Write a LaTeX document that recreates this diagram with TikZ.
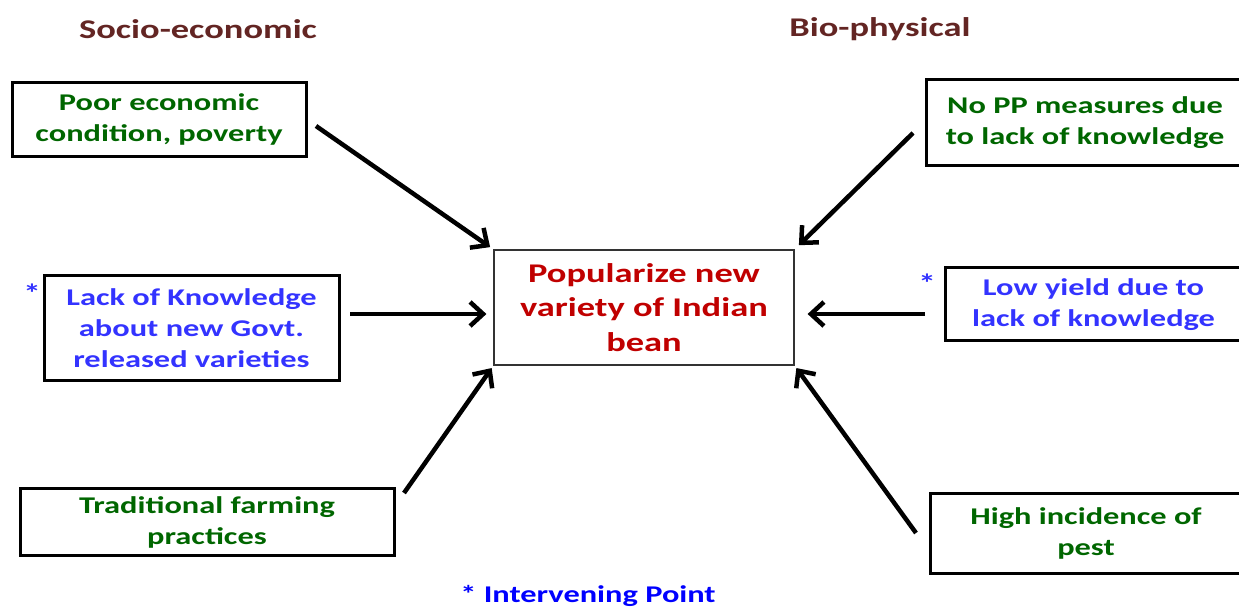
\documentclass[tikz,border=0pt]{standalone}
\usepackage{fontspec}
\setmainfont{Carlito}[FakeStretch=1.35]
\usetikzlibrary{arrows.meta}
\definecolor{headcol}{RGB}{99,37,35}
\definecolor{socgreen}{RGB}{0,102,0}
\definecolor{ipblue}{RGB}{51,51,255}
\definecolor{popred}{RGB}{192,0,0}

\begin{document}
\begin{tikzpicture}[x=1pt,y=-1pt,
  factor/.style={draw=black, line width=3pt, align=center, inner sep=0pt,
    font=\fontsize{24}{31}\selectfont\bfseries},
  goal/.style={draw=black!80, line width=1.2pt, align=center, inner sep=0pt,
    font=\fontsize{27}{34.5}\selectfont\bfseries, text=popred},
  heading/.style={font=\fontsize{27}{32}\selectfont\bfseries, text=headcol},
  push/.style={line width=4.5pt, -{Straight Barb[length=13pt,width=24pt,line width=4.5pt]}}]
  \useasboundingbox (0,0) rectangle (1239,609);

  % headings
  \node[heading] (soc) at (198,29) {Socio-economic};
  \node[heading] (bio) at (880,29) {Bio-physical};

  % centre
  \node[goal, minimum width=300pt, minimum height=115pt] (pop) at (644,307.5)
    {Popularize new\\variety of Indian\\bean};

  % socio-economic side
  \node[factor, text=socgreen, minimum width=294pt, minimum height=74pt] (poor) at (159,119.5)
    {Poor economic\\condition, poverty};
  \node[factor, text=ipblue, minimum width=295pt, minimum height=105pt] (know) at (191.5,328)
    {Lack of Knowledge\\about new Govt.\\released varieties};
  \node[factor, text=socgreen, minimum width=374pt, minimum height=67pt] (trad) at (207,522)
    {Traditional farming\\practices};

  % bio-physical side
  \node[factor, text=socgreen, minimum width=318pt, minimum height=86pt] (nopp) at (1085,122.5)
    {No PP measures due\\to lack of knowledge};
  \node[factor, text=ipblue, minimum width=297pt, minimum height=73pt] (yield) at (1093.5,304.5)
    {Low yield due to\\lack of knowledge};
  \node[factor, text=socgreen, minimum width=312pt, minimum height=80pt] (pest) at (1086,533)
    {High incidence of\\pest};

  % intervening marks
  \node[text=ipblue, font=\fontsize{26}{26}\selectfont\bfseries] (star1) at (32,293) {*};
  \node[text=ipblue, font=\fontsize{26}{26}\selectfont\bfseries] (star2) at (927,283) {*};
  \node[text=blue, font=\fontsize{24}{24}\selectfont\bfseries, anchor=base] (note) at (588,602)
    {* Intervening Point};

  % arrows
  \coordinate (t1) at (316,126);
  \coordinate (t2) at (350,314);
  \coordinate (t3) at (404,493);
  \coordinate (t4) at (913,133);
  \coordinate (t5) at (925,314);
  \coordinate (t6) at (916,533);
  \draw[push, shorten >=4pt] (t1) -- (pop.north west);
  \draw[push, shorten >=7pt] (t2) -- (pop.west |- t2);
  \draw[push, shorten >=3pt] (t3) -- (pop.south west);
  \draw[push, shorten >=6pt] (t4) -- (pop.north east);
  \draw[push, shorten >=13pt] (t5) -- (pop.east |- t5);
  \draw[push, shorten >=3pt] (t6) -- (pop.south east);
\end{tikzpicture}
\end{document}
